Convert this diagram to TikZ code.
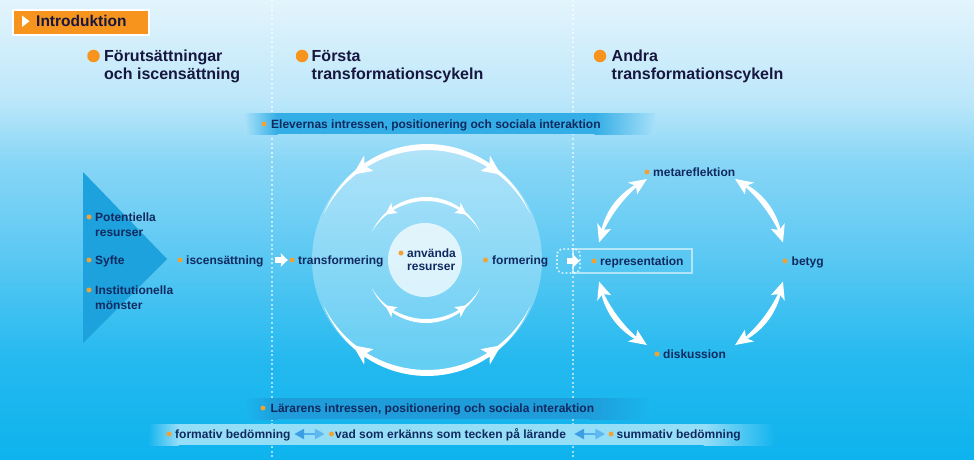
\documentclass[tikz,border=0pt]{standalone}
\usepackage{fontspec}
\setmainfont{Liberation Sans}
\usetikzlibrary{arrows.meta}
\definecolor{bgA}{HTML}{E3F4FC}
\definecolor{bgB}{HTML}{BCE7FA}
\definecolor{bgC}{HTML}{88D6F6}
\definecolor{bgD}{HTML}{68CCF4}
\definecolor{bgE}{HTML}{24B9EF}
\definecolor{bgF}{HTML}{0EB3EE}
\definecolor{orng}{HTML}{F7941E}
\definecolor{bulc}{HTML}{F0A234}
\definecolor{navy}{HTML}{102A60}
\definecolor{hdrc}{HTML}{16163E}
\definecolor{barA}{HTML}{33AEE6}
\definecolor{barB}{HTML}{1E9DDA}
\definecolor{tric}{HTML}{1DA2DD}
\definecolor{dblA}{HTML}{3C9FE4}
\definecolor{dblM}{HTML}{52B0EC}
\definecolor{dblB}{HTML}{5FB9F0}
\colorlet{bgEl}{bgC!40!bgB}
\colorlet{bgLa}{bgF!48!bgE}
\colorlet{bgBo}{bgF!74!bgE}
\colorlet{bandW}{white!55!bgBo}
% crescent: cx cy r a1 a2 halfwidth
\newcommand\mycres[6]{%
  \fill[white, shift={(#1,#2)}]
    plot[domain=#4:#5, samples=40] (\x:{#3+#6*sin((\x-(#4))/((#5)-(#4))*180)})
    -- plot[domain=#5:#4, samples=40] (\x:{#3-#6*sin((\x-(#4))/((#5)-(#4))*180)})
    -- cycle;}
% arrow head: cx cy r tipangle backangle halfwidth
\newcommand\myhead[6]{%
  \fill[white, shift={(#1,#2)}] (#4:#3) -- ({#5}:{#3+#6})
    -- ({(#5)+0.25*((#4)-(#5))}:#3) -- ({#5}:{#3-#6}) -- cycle;}
% faded band: x1 x2 y1 y2 fadeL fadeR bgcolor barcolor
\newcommand\myband[8]{%
  \shade[left color=#7, right color=#8] (#1,#3) rectangle ({#1+#5+0.5},#4);
  \fill[#8] ({#1+#5},#3) rectangle ({#2-#6},#4);
  \shade[left color=#8, right color=#7] ({#2-#6-0.5},#3) rectangle (#2,#4);}
\tikzset{
  lbl/.style={font=\bfseries\fontsize{12}{14}\selectfont, text=navy, inner sep=0pt, anchor=base west},
  hdr/.style={font=\bfseries\fontsize{16}{18}\selectfont, text=hdrc, inner sep=0pt, anchor=base west},
  bul/.style={circle, fill=bulc, inner sep=0pt, minimum size=5pt},
  hbul/.style={circle, fill=orng, inner sep=0pt, minimum size=12.5pt},
  vdot/.style={white, draw opacity=0.6, line width=2pt, dash pattern=on 2pt off 2.6pt},
  fatarrow/.style={draw=white, line width=6pt, -{Triangle[width=13pt,length=7pt]}},
  dblarrow/.style={draw=dblM, line width=2.5pt,
    {Triangle[width=10pt,length=10pt,color=dblA]}-{Triangle[width=10pt,length=10pt,color=dblB]}},
}
\begin{document}
\begin{tikzpicture}[x=1pt, y=-1pt]
\useasboundingbox (0,0) rectangle (974,460);
% background
\shade[top color=bgA, bottom color=bgB] (0,0) rectangle (974,101);
\shade[top color=bgB, bottom color=bgC] (0,100) rectangle (974,161);
\shade[top color=bgC, bottom color=bgD] (0,160) rectangle (974,231);
\shade[top color=bgD, bottom color=bgE] (0,230) rectangle (974,361);
\shade[top color=bgE, bottom color=bgF] (0,360) rectangle (974,460);
% dotted separators
\draw[vdot] (272,0) -- (272,460);
\draw[vdot] (573,0) -- (573,460);
% bars
\myband{245}{655}{113}{134}{32}{60}{bgEl}{barA}
\myband{245}{650}{398}{419}{32}{60}{bgLa}{barB}
\myband{148}{774}{424}{445}{30}{70}{bgBo}{bandW}
% intro box
\node[fill=orng, draw=white, line width=2pt, minimum width=136pt, minimum height=25pt,
      inner sep=0pt, anchor=north west] (introbox) at (12,9) {};
\fill[white] (22,15.5) -- (22,27) -- (29.5,21.25) -- cycle;
\node[font=\bfseries\fontsize{15.5}{18}\selectfont, text=hdrc, inner sep=0pt, anchor=base west]
      (introtxt) at (36,27) {Introduktion};
% headers
\node[hbul] (h1dot) at (93.5,56) {};
\node[hdr] (h1a) at (104,62) {Förutsättningar};
\node[hdr] (h1b) at (104,80) {och iscensättning};
\node[hbul] (h2dot) at (302,56) {};
\node[hdr] (h2a) at (311.5,62) {Första};
\node[hdr] (h2b) at (311.5,80) {transformationscykeln};
\node[hbul] (h3dot) at (600,56) {};
\node[hdr] (h3a) at (611.5,62) {Andra};
\node[hdr] (h3b) at (611.5,80) {transformationscykeln};
% bar labels
\node[bul] (delev) at (264,124) {};
\node[lbl] (telev) at (271,128.5) {Elevernas intressen, positionering och sociala interaktion};
\node[bul] (dlar) at (263,408) {};
\node[lbl] (tlar) at (270.5,412.5) {Lärarens intressen, positionering och sociala interaktion};
% left triangle
\fill[tric] (83,172) -- (83,343) -- (167,259) -- cycle;
\node[bul] (dpot) at (89,217) {};
\node[lbl] (tpot) at (95,221.5) {Potentiella};
\node[lbl] (tpot2) at (95,236.5) {resurser};
\node[bul] (dsyf) at (89,260) {};
\node[lbl] (tsyf) at (95,264.5) {Syfte};
\node[bul] (dins) at (89,290) {};
\node[lbl] (tins) at (95,294.5) {Institutionella};
\node[lbl] (tins2) at (95,309.5) {mönster};
\node[bul] (disc) at (180,260) {};
\node[lbl] (tisc) at (186,264.5) {iscensättning};
% first cycle
\node[circle, fill=white, fill opacity=0.3, minimum size=230pt, inner sep=0pt] (bigc) at (427,260) {};
\node[circle, fill=white, fill opacity=0.72, minimum size=74pt, inner sep=0pt] (innc) at (425,260) {};
\mycres{427}{260}{113}{-156}{-24}{3}
\myhead{427}{260}{113}{-131}{-121}{9}
\myhead{427}{260}{113}{-49}{-59}{9}
\mycres{427}{260}{113}{24}{156}{3}
\myhead{427}{260}{113}{131}{121}{9}
\myhead{427}{260}{113}{49}{59}{9}
\mycres{426}{260}{61}{-153}{-27}{2}
\myhead{426}{260}{61}{-132}{-121}{6}
\myhead{426}{260}{61}{-48}{-59}{6}
\mycres{426}{260}{61}{27}{153}{2}
\myhead{426}{260}{61}{132}{121}{6}
\myhead{426}{260}{61}{48}{59}{6}
\node[bul] (dtr) at (292,260) {};
\node[lbl] (ttr) at (298,264.5) {transformering};
\node[bul] (danv) at (401,253) {};
\node[lbl] (tanv) at (407,257) {använda};
\node[lbl] (tanv2) at (407,270) {resurser};
\node[bul] (dfor) at (485.5,260) {};
\node[lbl] (tfor) at (492,264.5) {formering};
% second cycle
\draw[white, draw opacity=0.55, line width=1.5pt] (573,249) rectangle (692,273);
\draw[white, draw opacity=0.7, line width=1.8pt, dash pattern=on 1.8pt off 2.2pt, rounded corners=6pt]
  (557,249) rectangle (580,273);
\mycres{691}{262}{94}{-168}{-118}{2.8}
\myhead{691}{262}{94}{-168}{-157.5}{7.5}
\myhead{691}{262}{94}{-118}{-128.5}{7.5}
\mycres{691}{262}{94}{-62}{-12}{2.8}
\myhead{691}{262}{94}{-62}{-51.5}{7.5}
\myhead{691}{262}{94}{-12}{-22.5}{7.5}
\mycres{691}{262}{94}{12}{62}{2.8}
\myhead{691}{262}{94}{12}{22.5}{7.5}
\myhead{691}{262}{94}{62}{51.5}{7.5}
\mycres{691}{262}{94}{118}{168}{2.8}
\myhead{691}{262}{94}{118}{128.5}{7.5}
\myhead{691}{262}{94}{168}{157.5}{7.5}
\node[bul] (drep) at (594,261) {};
\node[lbl] (trep) at (600,265.5) {representation};
\node[bul] (dmet) at (647,172) {};
\node[lbl] (tmet) at (653,176.5) {metareflektion};
\node[bul] (dbet) at (785,261) {};
\node[lbl] (tbet) at (791.5,265.5) {betyg};
\node[bul] (ddis) at (657,354) {};
\node[lbl] (tdis) at (663,358.5) {diskussion};
% white arrows
\draw[fatarrow, shorten <=11.6pt, shorten >=1.5pt] (tisc.east |- disc) -- (dtr.west);
\draw[fatarrow, shorten <=19pt, shorten >=11.5pt] (tfor.east |- drep) -- (drep.west);
% bottom line
\node[bul] (dform) at (169,434) {};
\node[lbl] (tform) at (175,438.5) {formativ bedömning};
\node[bul] (dvad) at (331.5,434) {};
\node[lbl] (tvad) at (335,438.5) {vad som erkänns som tecken på lärande};
\node[bul] (dsum) at (611,434) {};
\node[lbl] (tsum) at (616.5,438.5) {summativ bedömning};
\draw[dblarrow, shorten <=3.5pt, shorten >=4pt] (tform.east |- dvad) -- (dvad.west);
\draw[dblarrow, shorten <=8pt, shorten >=3pt] (tvad.east |- dsum) -- (dsum.west);
\end{tikzpicture}
\end{document}
